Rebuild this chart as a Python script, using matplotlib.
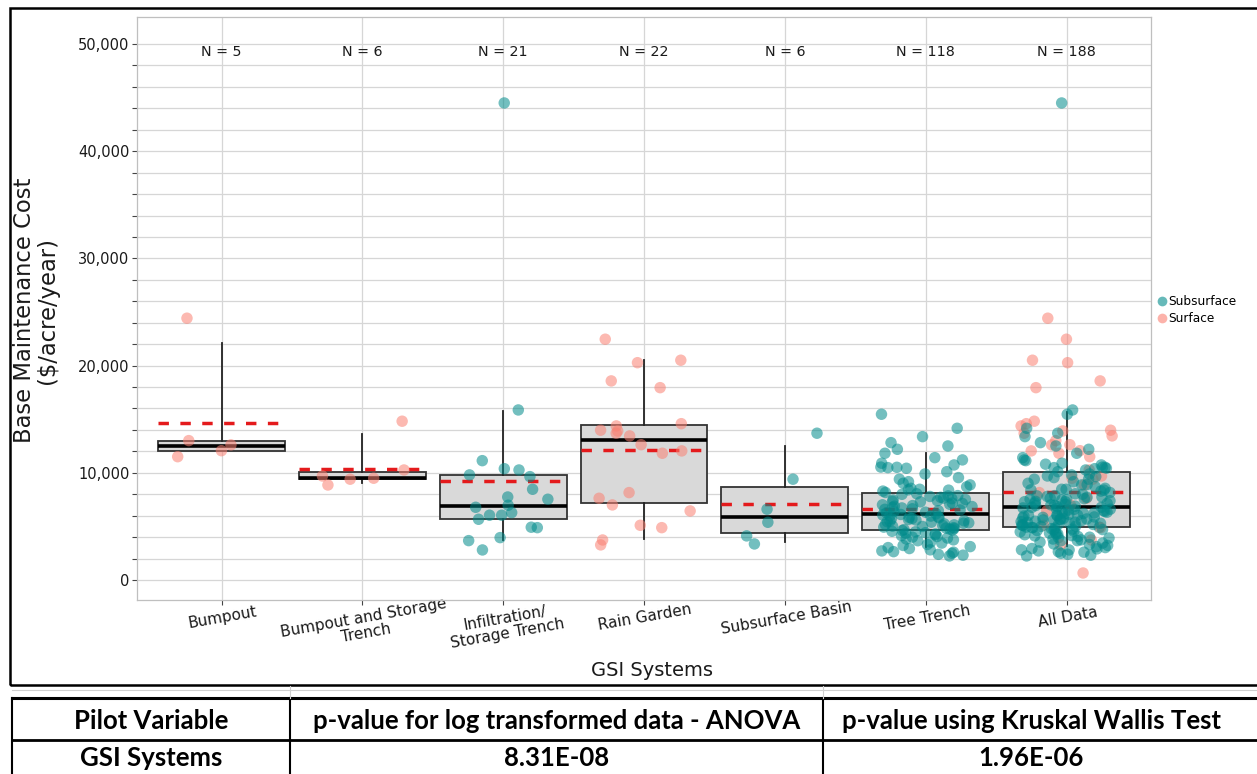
import numpy as np
import matplotlib
matplotlib.use("Agg")
import matplotlib.pyplot as plt
from matplotlib.lines import Line2D
from matplotlib.patches import Rectangle

plt.rcParams["font.family"] = ["DejaVu Sans"]

# ---------------- data ----------------
categories = ["Bumpout", "Bumpout and Storage\nTrench", "Infiltration/\nStorage Trench",
              "Rain Garden", "Subsurface Basin", "Tree Trench", "All Data"]

bumpout = [24420, 12060, 12600, 11500, 13000]
bumpout_storage = [14810, 9700, 8860, 10260, 9490, 9400]
infiltration = [44500, 15860, 11130, 9800, 9640, 10260, 10380, 8460, 7740, 7530, 6780,
                6970, 6040, 6040, 6280, 5660, 4920, 4880, 3670, 3950, 2800]
rain_garden = [22460, 20500, 20270, 18570, 17940, 14370, 14580, 13900, 13970, 13690, 13440,
               12620, 12040, 11820, 8150, 7620, 7000, 6440, 5100, 4880, 3730, 3270]
subsurface_basin = [13690, 9400, 6600, 5380, 4110, 3360]
tree_trench = [15460, 14150, 13370, 12810, 12500, 12190, 11820, 11410, 11200, 10890,
               10730, 10510, 10480, 10530, 10420, 10100, 9890, 9550, 9400, 9170,
               9020, 8870, 8690, 8550, 8460, 8410, 8380, 8290, 8160,
               8040, 7990, 7870, 7840, 7790, 7710, 7630, 7580, 7510, 7460,
               7390, 7330, 7290, 7180, 7140, 7060, 7010, 6940, 6880, 6850,
               6770, 6720, 6640, 6590, 6530, 6460, 6380, 6320, 6260, 6170,
               6110, 6060, 5990, 5960, 5880, 5840, 5790, 5730, 5690, 5640,
               5590, 5520, 5480, 5440, 5390, 5330, 5290, 5230, 5180, 5140,
               5090, 5020, 4990, 4930, 4880, 4840, 4790, 4740, 4700, 4660,
               4610, 4540, 4490, 4410, 4360, 4290, 4220, 4140, 4050, 3990,
               3910, 3820, 3740, 3660, 3530, 3440, 3310, 3220, 3110, 3020,
               2930, 2810, 2710, 2640, 2590, 2480, 2390, 2310, 2240]
other_sites = [650, 7300, 5600, 8900, 6200, 4300, 9700, 2900, 10800, 5100]
other_types = ["Surface"] + ["Subsurface"] * 9
group_types = ["Surface", "Surface", "Subsurface", "Surface", "Subsurface", "Subsurface"]

# box statistics as drawn in the reference
box_q1 = [12010, 9400, 5660, 7160, 4410, 4640, 4970]
box_med = [12500, 9540, 6930, 13030, 5910, 6130, 6810]
box_q3 = [12940, 10050, 9800, 14430, 8650, 8090, 10050]
box_lo = [12010, 9020, 3730, 3830, 3570, 3110, 3200]
box_hi = [22140, 13590, 15800, 20500, 12530, 11820, 15650]
box_mean = [14650, 10380, 9240, 12100, 7090, 6620, 8180]

table_header = ["Pilot Variable", "p-value for log transformed data - ANOVA",
                "p-value using Kruskal Wallis Test"]
table_row = ["GSI Systems", "8.31E-08", "1.96E-06"]

# ---------------- assemble ----------------
groups = [bumpout, bumpout_storage, infiltration, rain_garden, subsurface_basin, tree_trench]
all_vals = [v for g in groups for v in g] + other_sites
all_types = [t for g, t in zip(groups, group_types) for _ in g] + other_types
group_vals = groups + [all_vals]
group_type_lists = [[t] * len(g) for g, t in zip(groups, group_types)] + [all_types]

colors = {"Subsurface": "#008B8B", "Surface": "#FA8072"}

W, H = 1257, 774
fig = plt.figure(figsize=(W / 100, H / 100), dpi=100)
ax = fig.add_axes([137 / W, 1 - 600 / H, (1151 - 137) / W, (600 - 17) / H])

positions = np.arange(1, len(categories) + 1)
stats = []
for i in range(len(categories)):
    stats.append(dict(q1=box_q1[i], med=box_med[i], q3=box_q3[i],
                      whislo=box_lo[i], whishi=box_hi[i], fliers=[]))
ax.bxp(stats, positions=positions, widths=0.9, patch_artist=True, showfliers=False,
       showcaps=False,
       boxprops=dict(facecolor="#d9d9d9", edgecolor="#333333", linewidth=1.3),
       medianprops=dict(color="black", linewidth=2.6, solid_capstyle="butt"),
       whiskerprops=dict(color="#222222", linewidth=1.3), zorder=2)

ax.hlines(box_mean, positions - 0.45, positions + 0.45, colors="#e41a1c",
          linewidth=2.5, linestyles=(0, (3.0, 3.3)), zorder=2.5)

rng = np.random.default_rng(11)
for i, (vals, types) in enumerate(zip(group_vals, group_type_lists)):
    xs = positions[i] + rng.uniform(-0.33, 0.33, len(vals))
    cs = [colors[t] for t in types]
    ax.scatter(xs, vals, s=68, c=cs, alpha=0.55, linewidths=0, zorder=3)
    ax.text(positions[i], 49300, f"N = {len(vals)}", ha="center", va="center",
            fontsize=10.3, color="#1a1a1a")

ax.set_xlim(0.4, 7.6)
ax.set_ylim(-1870, 52520)
yt = np.arange(0, 50001, 2000)
ax.set_yticks(yt)
ax.set_yticklabels([f"{v:,}" if v % 10000 == 0 else "" for v in yt])
ax.set_xticks(positions)
ax.set_xticklabels(categories, rotation=10, ha="center", va="top",
                   rotation_mode="anchor", multialignment="center", linespacing=1.05)
ax.tick_params(axis="y", direction="out", length=3.5, width=0.8, color="#444444",
               labelsize=10.5, labelcolor="#1a1a1a", pad=2)
ax.tick_params(axis="x", direction="out", length=3.5, width=0.8, color="#444444",
               labelsize=11, labelcolor="#1a1a1a", pad=4)
ax.grid(True, color="#d6d6d6", linewidth=0.9, zorder=0)
ax.set_axisbelow(True)
for s in ax.spines.values():
    s.set_color("#bfbfbf")
    s.set_linewidth(0.9)

fig.text(36 / W, 1 - 310 / H, "Base Maintenance Cost\n($/acre/year)", rotation=90,
         ha="center", va="center", multialignment="center", fontsize=16.3,
         color="#1a1a1a", linespacing=1.0)
fig.text(652 / W, 1 - 670 / H, "GSI Systems", ha="center", va="center",
         fontsize=14, color="#1a1a1a")

handles = [Line2D([], [], marker="o", linestyle="", markersize=7, markeredgewidth=0,
                  markerfacecolor=colors[k], alpha=0.6, label=k)
           for k in ["Subsurface", "Surface"]]
fig.legend(handles=handles, loc="upper left", bbox_to_anchor=(1158 / W, 1 - 295 / H),
           bbox_transform=fig.transFigure, frameon=False, fontsize=8.7,
           handlelength=0.6, handletextpad=0.25, labelspacing=0.35, borderpad=0,
           borderaxespad=0)

# chart frame
fig.add_artist(Rectangle((10 / W, 1 - 685 / H), 1.2, (685 - 8) / H,
                         transform=fig.transFigure, fill=False, ec="black", lw=1.8))

# ---------------- table ----------------
def fy(y):
    return 1 - y / H

tl = dict(transform=fig.transFigure, color="black")
fig.add_artist(Line2D([12 / W, 1], [fy(690), fy(690)], lw=0.8, color="#cfcfcf",
                      transform=fig.transFigure))
fig.add_artist(Line2D([12 / W, 1], [fy(698), fy(698)], lw=2.2, **tl))
fig.add_artist(Line2D([12 / W, 1], [fy(740), fy(740)], lw=2.0, **tl))
for xv in [12, 290, 823]:
    fig.add_artist(Line2D([xv / W, xv / W], [fy(698), 0], lw=1.5, **tl))
for xv in [290, 823]:
    fig.add_artist(Line2D([xv / W, xv / W], [fy(686), fy(698)], lw=0.8, color="#cfcfcf",
                          transform=fig.transFigure))
col_centers = [151, 557, 1031]
for cx, h, r in zip(col_centers, table_header, table_row):
    fig.text(cx / W, fy(721), h, ha="center", va="center", fontsize=18.5,
             fontweight="bold", family="Lato")
    fig.text(cx / W, fy(758), r, ha="center", va="center", fontsize=18.5,
             fontweight="bold", family="Lato")

fig.savefig("out.png", dpi=100)
